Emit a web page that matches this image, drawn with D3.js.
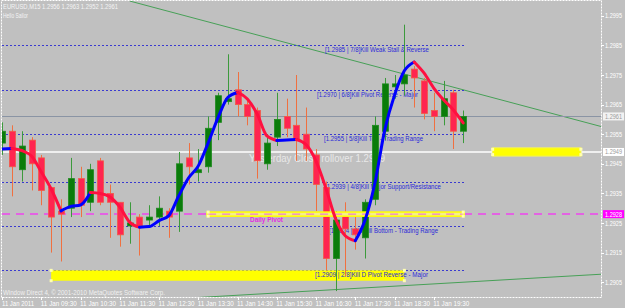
<!DOCTYPE html>
<html>
<head>
<meta charset="utf-8">
<script src="https://cdn.jsdelivr.net/npm/d3@7"></script>
<style>
  body { margin: 0; background: #c0c0c0; }
  svg { display: block; font-family: "Liberation Sans", Arial, sans-serif; }
</style>
</head>
<body>
<div class="stage"></div>
<script>
// EURUSD M15 chart, 11 Jan 2011
var width = 625;
var height = 308;

var symbol = "EURUSD,M15";
var indicatorName = "Hello Sailor";
var copyright = "Window Direct 4, \u00a9 2001-2010 MetaQuotes Software Corp.";

// candles (one per 15 min, first bar 08:30)
var opens  = [1.2952,1.2956,1.2943,1.2953,1.2947,1.2937,1.2929,1.2930,1.2940,1.2932,
              1.2946,1.2935,1.2932,1.2924,1.2927,1.2926,1.2927,1.2929,1.2929,1.2947,
              1.2942,1.2944,1.2959,1.2966,1.2970,1.2965,1.2963,1.2945,1.2954,1.2961,
              1.2958,1.2955,1.2948,1.2937,1.2913,1.2928,1.2923,1.2920,1.2933,1.2956,
              1.2971,1.2972,1.2977,1.2973,1.2963,1.2961,1.2969,1.2956];
var highs  = [1.2959,1.2958,1.2956,1.2954,1.2948,1.2937,1.2933,1.2947,1.2944,1.2945,
              1.2947,1.2938,1.2932,1.2932,1.2928,1.2931,1.2934,1.2930,1.2949,1.2952,
              1.2950,1.2961,1.2969,1.2982,1.2976,1.2967,1.2964,1.2955,1.2969,1.2967,
              1.2975,1.2964,1.2950,1.2939,1.2929,1.2932,1.2927,1.2933,1.2961,1.2974,
              1.2975,1.2992,1.2978,1.2974,1.2969,1.2973,1.2970,1.2963];
var lows   = [1.2948,1.2934,1.2939,1.2936,1.2931,1.2915,1.2912,1.2927,1.2927,1.2929,
              1.2931,1.2920,1.2917,1.2918,1.2914,1.2924,1.2924,1.2920,1.2922,1.2938,
              1.2939,1.2942,1.2953,1.2965,1.2961,1.2958,1.2940,1.2943,1.2951,1.2954,
              1.2946,1.2946,1.2929,1.2909,1.2902,1.2907,1.2916,1.2913,1.2931,1.2953,
              1.2967,1.2968,1.2964,1.2960,1.2956,1.2958,1.2950,1.2952];
var closes = [1.2956,1.2944,1.2951,1.2945,1.2936,1.2927,1.2928,1.2940,1.2931,1.2943,
              1.2932,1.2932,1.2921,1.2925,1.2924,1.2927,1.2930,1.2927,1.2945,1.2944,
              1.2943,1.2957,1.2968,1.2967,1.2965,1.2961,1.2946,1.2952,1.2960,1.2957,
              1.2953,1.2950,1.2938,1.2913,1.2926,1.2923,1.2921,1.2932,1.2958,1.2972,
              1.2972,1.2975,1.2974,1.2962,1.2961,1.2967,1.2956,1.2961];

// two colour moving average
var ma = [1.29500,1.29502,1.29495,1.29476,1.29422,1.29365,1.29291,1.29306,1.29311,1.29353,
          1.29350,1.29338,1.29304,1.29253,1.29236,1.29238,1.29258,1.29275,1.29341,1.29402,
          1.29443,1.29520,1.29605,1.29674,1.29691,1.29669,1.29618,1.29544,1.29529,1.29530,
          1.29532,1.29514,1.29459,1.29368,1.29264,1.29206,1.29190,1.29260,1.29385,1.29564,
          1.29682,1.29764,1.29794,1.29757,1.29706,1.29666,1.29632,1.29588];

var timeLabels = ["11 Jan 2011","11 Jan 09:30","11 Jan 10:30","11 Jan 11:30","11 Jan 12:30",
                  "11 Jan 13:30","11 Jan 14:30","11 Jan 15:30","11 Jan 16:30","11 Jan 17:30",
                  "11 Jan 18:30","11 Jan 19:30"];
var timeLabelBars = [0,4,8,12,16,20,24,28,32,36,40,44];

var priceTicks = [1.2995,1.2985,1.2975,1.2965,1.2955,1.2945,1.2935,1.2925,1.2915,1.2905];

// murrey levels
var levelPrices = [1.2985,1.2970,1.2955,1.2939,1.2924,1.2909];
var levelTexts = ["[1.2985 | 7/8]Kill Weak Stall & Reverse",
                  "[1.2970 | 6/8]Kill Pivot Reverse - Major",
                  "[1.2955 | 5/8]Kill Top - Trading Range",
                  "[1.2939 | 4/8]Kill Major Support/Resistance",
                  "[1.2924 | 3/8]Kill Bottom - Trading Range",
                  "[1.2909 | 2/8]Kill D Pivot Reverse - Major"];

var bid = 1.2961;
var yesterdayClose = 1.2949;
var dailyPivot = 1.2928;

// objects: [bar, price] anchors and boxes [barFrom, barTo, priceTop, priceBottom]
var upperTrend = [[13, 1.3000], [47, 1.2970]];
var lowerTrend = [[0, 1.2896], [47, 1.2905]];
var pivotBox = [21, 47, 1.29287, 1.29273];
var bottomBox = [5, 41, 1.2909, 1.29055];
var closeBox = [50, 59, 1.29499, 1.29481];

// ---- layout ----
var plotL = 2, plotR = 601, plotT = 1, plotB = 297;
var levelLabelX = [325, 317, 324, 325, 329, 315];
var levelLabelW = [104, 101, 99, 116, 109, 113];

var x = d3.scaleLinear().domain([0, 47]).range([2.1, 463.2]);
var y = d3.scaleLinear().domain([1.2900, 1.3000]).range([plotB, plotT]);

var svg = d3.select('.stage')
  .append('svg')
  .attr('width', width)
  .attr('height', height)
  .style('background', '#c0c0c0');

svg.append('clipPath').attr('id', 'plotclip')
  .append('rect')
  .attr('x', plotL).attr('y', plotT)
  .attr('width', plotR - plotL).attr('height', plotB - plotT);

var plot = svg.append('g').attr('clip-path', 'url(#plotclip)');

// trend lines
var trendLine = function(pts) {
  var slope = (pts[1][1] - pts[0][1]) / (pts[1][0] - pts[0][0]);
  var endBar = x.invert(plotR + 5);
  return [[pts[0][0], pts[0][1]], [endBar, pts[0][1] + slope * (endBar - pts[0][0])]];
};
plot.selectAll('line.trend')
  .data([trendLine(upperTrend), trendLine(lowerTrend)])
  .enter()
  .append('line')
  .attr('class', 'trend')
  .attr('x1', function(d) { return x(d[0][0]); })
  .attr('y1', function(d) { return y(d[0][1]); })
  .attr('x2', function(d) { return x(d[1][0]); })
  .attr('y2', function(d) { return y(d[1][1]); })
  .attr('stroke', '#47a057')
  .attr('stroke-width', 1);

// bid line
plot.append('line')
  .attr('x1', plotL).attr('x2', plotR)
  .attr('y1', Math.round(y(bid)) + 0.5).attr('y2', Math.round(y(bid)) + 0.5)
  .attr('stroke', '#8a94a4');

// yesterday close line
plot.append('line')
  .attr('x1', plotL).attr('x2', plotR)
  .attr('y1', y(yesterdayClose)).attr('y2', y(yesterdayClose))
  .attr('stroke', '#ffffff')
  .attr('stroke-width', 1.5);

// daily pivot dashed line
plot.append('line')
  .attr('x1', plotL).attr('x2', plotR)
  .attr('y1', y(dailyPivot)).attr('y2', y(dailyPivot))
  .attr('stroke', '#ee44ee')
  .attr('stroke-width', 1.5)
  .attr('stroke-dasharray', '8,6');

// murrey level lines
plot.selectAll('line.level')
  .data(levelPrices)
  .enter()
  .append('line')
  .attr('class', 'level')
  .attr('x1', plotL).attr('x2', x(47) + 1)
  .attr('y1', function(d) { return Math.round(y(d)) + 0.5; })
  .attr('y2', function(d) { return Math.round(y(d)) + 0.5; })
  .attr('stroke', '#3a3ad0')
  .attr('stroke-dasharray', '2,2');

// bottom yellow box
plot.append('rect')
  .attr('x', x(bottomBox[0])).attr('y', y(bottomBox[2]))
  .attr('width', x(bottomBox[1]) - x(bottomBox[0]))
  .attr('height', y(bottomBox[3]) - y(bottomBox[2]))
  .attr('fill', '#ffff00');

// level labels
plot.selectAll('text.level')
  .data(levelTexts)
  .enter()
  .append('text')
  .attr('class', 'level')
  .attr('x', function(d, i) { return levelLabelX[i]; })
  .attr('y', function(d, i) { return y(levelPrices[i]) + 7; })
  .attr('textLength', function(d, i) { return levelLabelW[i]; })
  .attr('lengthAdjust', 'spacingAndGlyphs')
  .attr('font-size', 7.5)
  .attr('fill', '#2b2bd8')
  .text(function(d) { return d; });

plot.append('text')
  .attr('x', 249).attr('y', y(yesterdayClose) + 10)
  .attr('font-size', 11)
  .attr('textLength', 136)
  .attr('lengthAdjust', 'spacingAndGlyphs')
  .attr('fill', '#e8e8e8')
  .text('Yesterday Close rollover ' + yesterdayClose.toFixed(4));

// candles
var bars = d3.range(opens.length);
var isBull = function(i) { return closes[i] >= opens[i]; };
var candle = plot.selectAll('g.candle')
  .data(bars)
  .enter()
  .append('g')
  .attr('class', 'candle');

candle.append('line')
  .attr('x1', function(i) { return Math.round(x(i)) + 0.5; })
  .attr('x2', function(i) { return Math.round(x(i)) + 0.5; })
  .attr('y1', function(i) { return y(highs[i]); })
  .attr('y2', function(i) { return y(lows[i]); })
  .attr('stroke', function(i) { return isBull(i) ? '#3c9a3c' : '#f07040'; });

candle.append('rect')
  .attr('x', function(i) { return Math.round(x(i)) - 2.5; })
  .attr('width', 6)
  .attr('y', function(i) { return y(Math.max(opens[i], closes[i])); })
  .attr('height', function(i) { return Math.max(1.5, Math.abs(y(opens[i]) - y(closes[i]))); })
  .attr('fill', function(i) { return isBull(i) ? '#0a7c0a' : '#ff2550'; })
  .attr('stroke', function(i) { return isBull(i) ? '#1f8a1f' : '#f25a48'; })
  .attr('stroke-width', 0.8);

// daily pivot box (over candles)
plot.append('rect')
  .attr('x', x(pivotBox[0]) - 1).attr('y', y(pivotBox[2]))
  .attr('width', x(pivotBox[1]) - x(pivotBox[0]) + 2)
  .attr('height', y(pivotBox[3]) - y(pivotBox[2]))
  .attr('fill', '#f6f08a')
  .attr('stroke', '#ffff00')
  .attr('stroke-width', 1.5);
plot.append('line')
  .attr('x1', x(pivotBox[0])).attr('x2', x(pivotBox[1]))
  .attr('y1', y(dailyPivot)).attr('y2', y(dailyPivot))
  .attr('stroke', '#ee66cc')
  .attr('stroke-width', 1)
  .attr('stroke-dasharray', '8,6');
plot.append('text')
  .attr('x', 250).attr('y', y(dailyPivot) + 8)
  .attr('font-size', 7)
  .attr('font-weight', 'bold')
  .attr('textLength', 33)
  .attr('lengthAdjust', 'spacingAndGlyphs')
  .attr('fill', '#e030e0')
  .text('Daily Pivot');

// moving average, blue rising / red falling
var runs = [];
bars.slice(1).forEach(function(i) {
  var col = ma[i] < ma[i - 1] ? '#ff1040' : '#0000ff';
  var last = runs[runs.length - 1];
  if (last && last.col === col) { last.pts.push(i); }
  else { runs.push({ col: col, pts: [i - 1, i] }); }
});
var maLine = d3.line()
  .x(function(i) { return x(i); })
  .y(function(i) { return y(ma[i]); })
  .curve(d3.curveMonotoneX);
plot.selectAll('path.ma')
  .data(runs)
  .enter()
  .append('path')
  .attr('class', 'ma')
  .attr('d', function(d) { return maLine(d.pts); })
  .attr('fill', 'none')
  .attr('stroke', function(d) { return d.col; })
  .attr('stroke-width', 3)
  .attr('stroke-linecap', 'round');

// short yellow mark on yesterday close
plot.append('rect')
  .attr('x', x(closeBox[0])).attr('y', y(closeBox[2]) - 1.5)
  .attr('width', x(closeBox[1]) - x(closeBox[0]))
  .attr('height', y(closeBox[3]) - y(closeBox[2]) + 3)
  .attr('fill', '#ffff00')
  .attr('stroke', '#f0f060');

// object handles
var handles = [
  [bottomBox[0], bottomBox[2]], [bottomBox[0], bottomBox[3]],
  [bottomBox[1], bottomBox[2]], [bottomBox[1], bottomBox[3]],
  [pivotBox[0], pivotBox[2]], [pivotBox[0], pivotBox[3]],
  [pivotBox[1], pivotBox[2]], [pivotBox[1], pivotBox[3]],
  [closeBox[0], closeBox[2]], [closeBox[0], closeBox[3]],
  [closeBox[1], closeBox[2]], [closeBox[1], closeBox[3]]
];
plot.selectAll('rect.handle')
  .data(handles)
  .enter()
  .append('rect')
  .attr('class', 'handle')
  .attr('x', function(d) { return x(d[0]) - 1.5; })
  .attr('y', function(d) { return y(d[1]) - 1.5; })
  .attr('width', 3).attr('height', 3)
  .attr('fill', '#ffffb0');

// header
svg.append('text')
  .attr('x', 3).attr('y', 9)
  .attr('font-size', 7)
  .attr('textLength', 115)
  .attr('lengthAdjust', 'spacingAndGlyphs')
  .attr('fill', '#f4f4f4')
  .text(symbol + '  ' + [opens[47], highs[47], lows[47], closes[47]].map(function(v) { return v.toFixed(4); }).join(' '));
svg.append('text')
  .attr('x', 3).attr('y', 17.5)
  .attr('font-size', 7)
  .attr('textLength', 25)
  .attr('lengthAdjust', 'spacingAndGlyphs')
  .attr('fill', '#f4f4f4')
  .text(indicatorName);
svg.append('text')
  .attr('x', 3).attr('y', 295)
  .attr('font-size', 7.5)
  .attr('textLength', 162)
  .attr('lengthAdjust', 'spacingAndGlyphs')
  .attr('fill', '#f0f0f0')
  .text(copyright);

// frame
svg.append('rect')
  .attr('x', plotL - 0.5).attr('y', plotT - 0.5)
  .attr('width', plotR - plotL + 1).attr('height', plotB - plotT + 1)
  .attr('fill', 'none')
  .attr('stroke', '#ffffff')
  .attr('stroke-dasharray', '2,1');

// price axis
svg.selectAll('line.ptick')
  .data(priceTicks)
  .enter()
  .append('line')
  .attr('class', 'ptick')
  .attr('x1', plotR).attr('x2', plotR + 3)
  .attr('y1', function(d) { return Math.round(y(d)) + 0.5; })
  .attr('y2', function(d) { return Math.round(y(d)) + 0.5; })
  .attr('stroke', '#ffffff');
svg.selectAll('text.plabel')
  .data(priceTicks)
  .enter()
  .append('text')
  .attr('class', 'plabel')
  .attr('x', 605)
  .attr('y', function(d) { return y(d) + 2.5; })
  .attr('font-size', 7)
  .attr('textLength', 17)
  .attr('lengthAdjust', 'spacingAndGlyphs')
  .attr('fill', '#ffffff')
  .text(function(d) { return d.toFixed(4); });

// price boxes on the axis
var boxes = [
  { p: bid, fill: '#f2f2f2', text: '#9a9a9a' },
  { p: yesterdayClose, fill: '#ffffff', text: '#9a9a9a' },
  { p: dailyPivot, fill: '#ff00ff', text: '#ffffff' }
];
var box = svg.selectAll('g.pbox')
  .data(boxes)
  .enter()
  .append('g')
  .attr('class', 'pbox');
box.append('rect')
  .attr('x', 603).attr('width', 21)
  .attr('y', function(d) { return y(d.p) - 4; })
  .attr('height', 8)
  .attr('fill', function(d) { return d.fill; });
box.append('text')
  .attr('x', 605)
  .attr('y', function(d) { return y(d.p) + 2.5; })
  .attr('font-size', 7)
  .attr('textLength', 17)
  .attr('lengthAdjust', 'spacingAndGlyphs')
  .attr('fill', function(d) { return d.text; })
  .text(function(d) { return d.p.toFixed(4); });

// time axis
svg.selectAll('line.ttick')
  .data(timeLabelBars)
  .enter()
  .append('line')
  .attr('class', 'ttick')
  .attr('x1', function(d) { return Math.round(x(d)) + 0.5; })
  .attr('x2', function(d) { return Math.round(x(d)) + 0.5; })
  .attr('y1', plotB).attr('y2', plotB + 3)
  .attr('stroke', '#ffffff');
svg.selectAll('text.tlabel')
  .data(timeLabels)
  .enter()
  .append('text')
  .attr('class', 'tlabel')
  .attr('x', function(d, i) { return Math.max(2, x(timeLabelBars[i]) - 0.5); })
  .attr('y', 306)
  .attr('font-size', 7)
  .attr('textLength', function(d, i) { return i === 0 ? 32 : 36; })
  .attr('lengthAdjust', 'spacingAndGlyphs')
  .attr('fill', '#ffffff')
  .text(function(d) { return d; });
</script>
</body>
</html>
